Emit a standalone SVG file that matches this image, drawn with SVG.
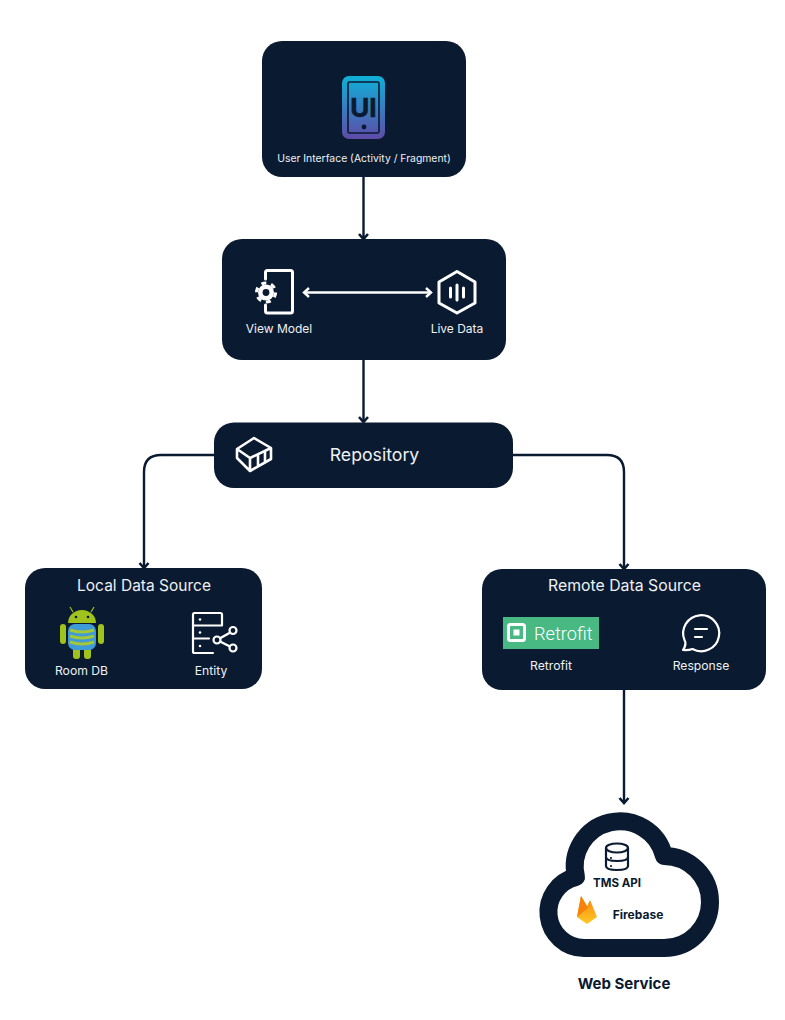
<svg xmlns="http://www.w3.org/2000/svg" width="785" height="1020" viewBox="0 0 785 1020">
<style>
.n{fill:#0a1a30}
.t{font-family:Inter,"Noto Sans",sans-serif;fill:#eef1f4;text-anchor:middle;font-weight:400}
.b{font-family:Inter,"Noto Sans",sans-serif;fill:#0a1a30;font-weight:700;text-anchor:middle}
.c{fill:none;stroke:#0a1a30;stroke-width:2.4}
.w{fill:none;stroke:#fff;stroke-width:3;stroke-linecap:round;stroke-linejoin:round}
.s{fill:none;stroke:#fff;stroke-width:2.2;stroke-linecap:round;stroke-linejoin:round}
.d{fill:#0a1a30}
.g{fill:#9fc31c}
</style>
<defs>
<linearGradient id="g" x1="0" y1="0" x2="0" y2="1"><stop offset="0" stop-color="#0fb0d8"/><stop offset="1" stop-color="#5f4ba8"/></linearGradient>
<linearGradient id="f" x1="0" y1="0" x2="0" y2="1"><stop offset="0" stop-color="#f6820c"/><stop offset="1" stop-color="#ffca28"/></linearGradient>
<marker id="a" markerUnits="userSpaceOnUse" viewBox="0 0 12 12" refX="10" refY="6" markerWidth="12" markerHeight="12" orient="auto-start-reverse"><path d="M5 1.500L10 6L5 10.500" fill="none" stroke="#0a1a30" stroke-width="2.600"/></marker>
<marker id="aw" markerUnits="userSpaceOnUse" viewBox="0 0 12 12" refX="10" refY="6" markerWidth="12" markerHeight="12" orient="auto-start-reverse"><path d="M5 1.500L10 6L5 10.500" fill="none" stroke="#fff" stroke-width="2.400"/></marker>
</defs>
<rect width="785" height="1020" fill="#fff"/>
<g id="connectors">
<path class="c" d="M363.500 177V239" marker-end="url(#a)"/>
<path class="c" d="M363.500 360V422" marker-end="url(#a)"/>
<path class="c" d="M214 455H161Q144 455 144 472V568" marker-end="url(#a)"/>
<path class="c" d="M513 455H607Q624 455 624 472V569" marker-end="url(#a)"/>
<path class="c" d="M624 690V803" marker-end="url(#a)"/>
</g>
<g id="ui">
<rect class="n" x="262" y="41" width="204" height="136" rx="20"/>
<rect x="342" y="76" width="43" height="63" rx="7" fill="url(#g)"/>
<rect x="348" y="82" width="31" height="51" rx="1.500" fill="none" stroke="#0a1a30" stroke-width="1.600"/>
<circle cx="364" cy="127" r="2.400" fill="#0a1a30"/>
<text x="363.500" y="117" font-family="Inter,sans-serif" font-weight="700" font-size="26" fill="#0a1a30" stroke="#0a1a30" stroke-width=".6" text-anchor="middle">UI</text>
<text class="t" x="364" y="162" font-size="10.400">User Interface (Activity / Fragment)</text>
</g>
<g id="viewmodel">
<rect class="n" x="222" y="239" width="284" height="121" rx="20"/>
<path class="w" d="M265.500 279V272.500Q265.500 270.500 267.500 270.500H290.500Q292.500 270.500 292.500 272.500V311Q292.500 313 290.500 313H267.500Q265.500 313 265.500 311V305"/>
<circle cx="266" cy="292.500" r="8" fill="#fff"/>
<circle cx="266" cy="292.500" r="9.500" fill="none" stroke="#fff" stroke-width="3.200" stroke-dasharray="5 4.950"/>
<circle cx="266" cy="292.500" r="3.400" fill="#0a1a30"/>
<path d="M304 292.500H431" fill="none" stroke="#fff" stroke-width="2.400" marker-start="url(#aw)" marker-end="url(#aw)"/>
<path class="w" d="M457 271.500L475 282V303L457 313L439 303V282Z"/>
<path class="w" d="M450.500 288V297M457 285V300M463.500 288V297"/>
<text class="t" x="279" y="333" font-size="12">View Model</text>
<text class="t" x="457" y="333" font-size="12">Live Data</text>
</g>
<g id="repository">
<rect class="n" x="214" y="422.500" width="299" height="65.500" rx="20"/>
<path d="M254 438L271 448V459L250 471L237 458V449ZM237 449L250 458L271 448M250 458V471M258 454V467M265 451V463" fill="none" stroke="#fff" stroke-width="2.600" stroke-linejoin="round"/>
<text class="t" x="374.500" y="461" font-size="17.700">Repository</text>
</g>
<g id="local">
<rect class="n" x="25" y="568" width="237" height="121" rx="20"/>
<text class="t" x="144" y="591" font-size="15.500">Local Data Source</text>
<path class="g" d="M68 623A14 13 0 0 1 96 623Z"/>
<path d="M73 612L70 607M91 612L94 607" stroke="#9fc31c" stroke-width="1.200"/>
<circle cx="76" cy="617" r="1.300" fill="#0a1a30"/><circle cx="88" cy="617" r="1.300" fill="#0a1a30"/>
<rect class="g" x="60" y="624" width="6" height="20" rx="3"/><rect class="g" x="98" y="624" width="6" height="20" rx="3"/>
<rect class="g" x="73" y="644" width="7" height="15" rx="3"/><rect class="g" x="84" y="644" width="7" height="15" rx="3"/>
<rect x="68" y="624" width="28" height="26" rx="7" fill="#3f9bd6"/>
<path d="M70 630Q82 634 94 630M70 636Q82 640 94 636M70 642Q82 646 94 642" fill="none" stroke="#a4c639" stroke-width="3"/>
<path class="s" d="M213 653H194.500Q193 653 193 651.500V614.500Q193 613 194.500 613H220.500Q222 613 222 614.500V625.500H193M193 638.500H209"/>
<circle cx="200" cy="619.500" r="1.300" fill="#fff"/><circle cx="200" cy="632.500" r="1.300" fill="#fff"/><circle cx="200" cy="646" r="1.300" fill="#fff"/>
<path d="M233 631L217 640L233 648" fill="none" stroke="#fff" stroke-width="2.400"/>
<circle cx="233" cy="630.500" r="3.500" fill="#0a1a30" stroke="#fff" stroke-width="2.200"/><circle cx="217" cy="640" r="3.500" fill="#0a1a30" stroke="#fff" stroke-width="2.200"/><circle cx="233" cy="648" r="3.500" fill="#0a1a30" stroke="#fff" stroke-width="2.200"/>
<text class="t" x="81.500" y="675" font-size="12.200">Room DB</text>
<text class="t" x="211" y="675" font-size="12.200">Entity</text>
</g>
<g id="remote">
<rect class="n" x="482" y="569" width="284" height="121" rx="20"/>
<text class="t" x="624.500" y="591" font-size="15.800">Remote Data Source</text>
<rect x="503" y="617" width="96" height="32" fill="#48b983"/>
<rect x="508.500" y="624.500" width="16" height="16" rx="2" fill="none" stroke="#fff" stroke-width="3"/>
<rect x="513.500" y="629.500" width="6" height="6" fill="#fff"/>
<text x="534" y="639.500" font-family="Roboto,sans-serif" font-weight="300" font-size="18.200" fill="#fff">Retrofit</text>
<path class="s" d="M683 650Q687 644 684.500 640A18 18 0 1 1 692.500 649Q688 650.500 683 650Z"/>
<path class="s" d="M695 629H707M695 637H702"/>
<text class="t" x="551" y="670" font-size="12.200">Retrofit</text>
<text class="t" x="701" y="670" font-size="12.200">Response</text>
</g>
<g id="webservice">
<path d="M584 948A36 36 0 0 1 576 877A45 45 0 0 1 664 856A46 46 0 0 1 664 948Z" fill="#fff" stroke="#0a1a30" stroke-width="18" stroke-linejoin="round"/>
<ellipse cx="617" cy="848" rx="11" ry="4.500" fill="none" stroke="#0a1a30" stroke-width="2.200"/>
<path d="M606 848V866Q606 870 617 870Q628 870 628 866V848M606 857Q606 861 617 861Q628 861 628 857" fill="none" stroke="#0a1a30" stroke-width="2.200"/>
<circle cx="611" cy="858" r="1.100" class="d"/><circle cx="611" cy="866" r="1.100" class="d"/>
<path d="M577 917L581 896L587 906L590 900L597 917L587 924Z" fill="url(#f)"/>
<path d="M577 917L581 896L588 908Z" fill="#f6820c"/>
<text class="b" x="617" y="887" font-size="11.500">TMS API</text>
<text class="b" x="638" y="919" font-size="12">Firebase</text>
<text class="b" x="624" y="989" font-size="15">Web Service</text>
</g>
</svg>
